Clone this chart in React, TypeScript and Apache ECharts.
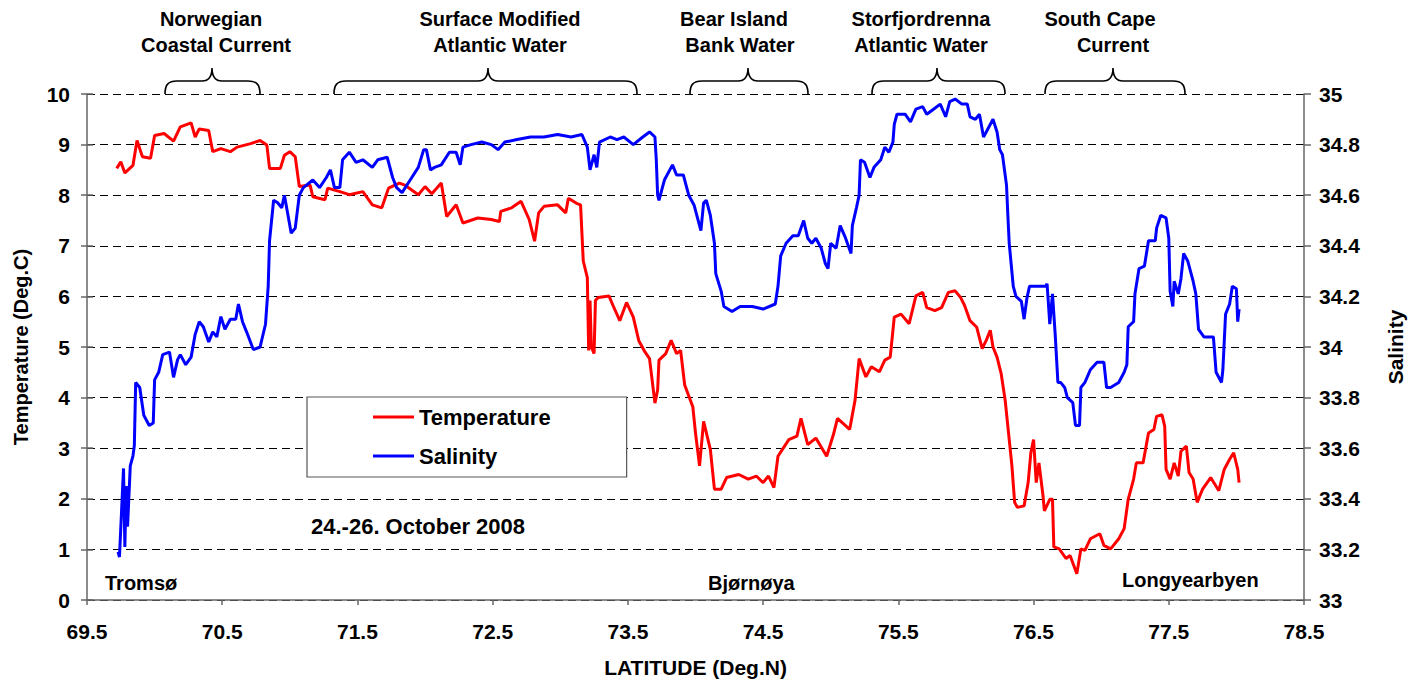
import React, { useEffect, useRef } from "react";
import * as echarts from "echarts";

// [latitude (deg N), temperature (deg C)]
const temperature: [number, number][] = [
  [69.72, 8.53], [69.75, 8.66], [69.78, 8.44], [69.84, 8.59], [69.87, 9.08], [69.91, 8.76], [69.97, 8.73],
  [70.0, 9.18], [70.07, 9.22], [70.14, 9.07], [70.19, 9.35], [70.27, 9.43], [70.3, 9.15], [70.33, 9.31],
  [70.4, 9.28], [70.43, 8.86], [70.49, 8.92], [70.56, 8.86], [70.61, 8.95], [70.71, 9.02], [70.78, 9.08],
  [70.83, 8.99], [70.85, 8.53], [70.93, 8.53], [70.96, 8.79], [71.0, 8.86], [71.04, 8.76], [71.07, 8.17],
  [71.15, 8.2], [71.17, 7.97], [71.26, 7.91], [71.28, 8.14], [71.37, 8.07], [71.44, 8.01], [71.54, 8.07],
  [71.61, 7.81], [71.68, 7.75], [71.73, 8.14], [71.81, 8.24], [71.85, 8.2], [71.95, 8.01], [72.0, 8.17],
  [72.05, 8.03], [72.12, 8.24], [72.16, 7.58], [72.23, 7.81], [72.28, 7.45], [72.39, 7.55], [72.49, 7.52],
  [72.55, 7.48], [72.56, 7.68], [72.64, 7.75], [72.71, 7.88], [72.77, 7.52], [72.81, 7.09], [72.84, 7.65],
  [72.88, 7.78], [72.98, 7.81], [73.04, 7.65], [73.06, 7.94], [73.12, 7.84], [73.15, 7.81], [73.17, 6.7],
  [73.2, 6.37], [73.21, 4.93], [73.22, 5.92], [73.23, 5.0], [73.25, 4.87], [73.26, 5.92], [73.28, 5.98],
  [73.36, 6.01], [73.39, 5.82], [73.44, 5.52], [73.49, 5.88], [73.54, 5.59], [73.58, 5.13], [73.62, 4.93],
  [73.66, 4.77], [73.7, 3.89], [73.72, 4.15], [73.73, 4.74], [73.78, 4.87], [73.82, 5.13], [73.86, 4.87],
  [73.89, 4.93], [73.92, 4.25], [73.98, 3.82], [74.0, 3.3], [74.03, 2.65], [74.06, 3.53], [74.11, 2.97],
  [74.14, 2.19], [74.19, 2.19], [74.23, 2.42], [74.32, 2.48], [74.39, 2.39], [74.45, 2.45], [74.5, 2.32],
  [74.54, 2.45], [74.58, 2.22], [74.61, 2.84], [74.69, 3.17], [74.75, 3.24], [74.78, 3.59], [74.83, 3.07],
  [74.89, 3.2], [74.97, 2.84], [75.02, 3.27], [75.05, 3.59], [75.14, 3.37], [75.18, 3.95], [75.21, 4.77],
  [75.26, 4.41], [75.3, 4.61], [75.36, 4.51], [75.4, 4.74], [75.44, 4.8], [75.47, 5.59], [75.52, 5.65],
  [75.58, 5.46], [75.63, 6.01], [75.68, 6.08], [75.71, 5.78], [75.77, 5.72], [75.82, 5.78], [75.87, 6.08],
  [75.92, 6.11], [75.96, 5.98], [75.99, 5.82], [76.03, 5.52], [76.08, 5.39], [76.12, 4.97], [76.15, 5.13],
  [76.18, 5.33], [76.2, 5.0], [76.23, 4.8], [76.26, 4.48], [76.29, 3.95], [76.31, 3.43], [76.34, 2.65],
  [76.36, 1.93], [76.38, 1.83], [76.43, 1.86], [76.46, 2.32], [76.48, 2.91], [76.5, 3.17], [76.52, 2.32],
  [76.54, 2.71], [76.57, 2.06], [76.58, 1.76], [76.62, 1.99], [76.64, 1.99], [76.65, 1.05], [76.69, 1.01],
  [76.74, 0.82], [76.77, 0.88], [76.82, 0.52], [76.85, 1.01], [76.88, 0.98], [76.92, 1.21], [76.99, 1.31],
  [77.02, 1.08], [77.07, 1.01], [77.13, 1.21], [77.17, 1.41], [77.2, 1.99], [77.24, 2.39], [77.26, 2.71],
  [77.31, 2.71], [77.35, 3.3], [77.39, 3.37], [77.41, 3.63], [77.45, 3.66], [77.47, 3.43], [77.48, 2.58],
  [77.51, 2.39], [77.54, 2.71], [77.57, 2.45], [77.59, 2.94], [77.63, 3.04], [77.65, 2.52], [77.68, 2.39],
  [77.71, 1.93], [77.75, 2.19], [77.81, 2.42], [77.87, 2.16], [77.91, 2.58], [77.95, 2.78], [77.98, 2.91],
  [78.01, 2.58], [78.02, 2.32],
];

// [latitude (deg N), salinity]
const salinity: [number, number][] = [
  [69.73, 33.19], [69.74, 33.17], [69.77, 33.52], [69.78, 33.21], [69.79, 33.45], [69.8, 33.29], [69.82, 33.53],
  [69.84, 33.57], [69.85, 33.61], [69.86, 33.86], [69.89, 33.84], [69.92, 33.73], [69.96, 33.69], [69.99, 33.7],
  [70.0, 33.87], [70.03, 33.9], [70.06, 33.97], [70.11, 33.98], [70.14, 33.88], [70.17, 33.95], [70.19, 33.97],
  [70.23, 33.93], [70.27, 33.96], [70.3, 34.05], [70.33, 34.1], [70.36, 34.08], [70.4, 34.02], [70.43, 34.06],
  [70.46, 34.04], [70.49, 34.12], [70.52, 34.07], [70.56, 34.11], [70.6, 34.11], [70.62, 34.17], [70.65, 34.1],
  [70.68, 34.06], [70.73, 33.99], [70.78, 34.0], [70.82, 34.09], [70.84, 34.24], [70.85, 34.42], [70.88, 34.58],
  [70.91, 34.57], [70.94, 34.55], [70.96, 34.6], [70.99, 34.51], [71.01, 34.45], [71.04, 34.47], [71.07, 34.6],
  [71.1, 34.63], [71.17, 34.66], [71.22, 34.63], [71.27, 34.67], [71.3, 34.7], [71.33, 34.63], [71.37, 34.63],
  [71.39, 34.74], [71.44, 34.77], [71.49, 34.73], [71.54, 34.74], [71.61, 34.71], [71.65, 34.74], [71.72, 34.75],
  [71.76, 34.67], [71.79, 34.63], [71.83, 34.61], [71.89, 34.66], [71.95, 34.71], [71.99, 34.78], [72.01, 34.78],
  [72.04, 34.7], [72.07, 34.71], [72.12, 34.72], [72.18, 34.77], [72.23, 34.77], [72.26, 34.72], [72.28, 34.79],
  [72.34, 34.8], [72.42, 34.81], [72.49, 34.8], [72.54, 34.78], [72.59, 34.81], [72.68, 34.82], [72.78, 34.83],
  [72.88, 34.83], [72.98, 34.84], [73.08, 34.83], [73.16, 34.84], [73.2, 34.79], [73.22, 34.7], [73.25, 34.76],
  [73.27, 34.71], [73.29, 34.81], [73.37, 34.83], [73.42, 34.82], [73.47, 34.83], [73.54, 34.8], [73.61, 34.83],
  [73.66, 34.85], [73.7, 34.83], [73.71, 34.74], [73.72, 34.6], [73.73, 34.58], [73.77, 34.66], [73.83, 34.72],
  [73.86, 34.68], [73.91, 34.68], [73.93, 34.64], [73.95, 34.6], [73.99, 34.56], [74.04, 34.46], [74.06, 34.57],
  [74.08, 34.58], [74.11, 34.52], [74.14, 34.41], [74.15, 34.29], [74.19, 34.22], [74.21, 34.16], [74.27, 34.14],
  [74.33, 34.16], [74.42, 34.16], [74.5, 34.15], [74.59, 34.17], [74.61, 34.24], [74.63, 34.36], [74.67, 34.41],
  [74.72, 34.44], [74.76, 34.44], [74.8, 34.5], [74.83, 34.43], [74.86, 34.41], [74.89, 34.43], [74.93, 34.39],
  [74.96, 34.33], [74.98, 34.31], [75.0, 34.41], [75.04, 34.39], [75.07, 34.48], [75.11, 34.43], [75.15, 34.37],
  [75.16, 34.48], [75.19, 34.55], [75.21, 34.6], [75.22, 34.74], [75.25, 34.73], [75.29, 34.67], [75.32, 34.71],
  [75.37, 34.74], [75.4, 34.79], [75.43, 34.77], [75.46, 34.81], [75.47, 34.88], [75.49, 34.92], [75.55, 34.92],
  [75.59, 34.89], [75.63, 34.94], [75.68, 34.95], [75.71, 34.92], [75.76, 34.94], [75.81, 34.96], [75.85, 34.91],
  [75.88, 34.97], [75.92, 34.98], [75.97, 34.96], [76.01, 34.96], [76.03, 34.91], [76.07, 34.9], [76.1, 34.92],
  [76.13, 34.83], [76.16, 34.86], [76.2, 34.9], [76.23, 34.85], [76.25, 34.78], [76.27, 34.76], [76.3, 34.64],
  [76.31, 34.52], [76.32, 34.41], [76.35, 34.24], [76.37, 34.2], [76.41, 34.18], [76.43, 34.11], [76.45, 34.19],
  [76.47, 34.24], [76.53, 34.24], [76.59, 34.24], [76.6, 34.25], [76.62, 34.09], [76.64, 34.21], [76.66, 34.05],
  [76.68, 33.86], [76.7, 33.86], [76.73, 33.84], [76.75, 33.8], [76.79, 33.78], [76.81, 33.69], [76.84, 33.69],
  [76.85, 33.84], [76.88, 33.86], [76.92, 33.91], [76.97, 33.94], [77.02, 33.94], [77.04, 33.84], [77.07, 33.84],
  [77.13, 33.86], [77.17, 33.9], [77.19, 33.93], [77.2, 34.08], [77.24, 34.1], [77.25, 34.21], [77.28, 34.31],
  [77.32, 34.32], [77.35, 34.42], [77.4, 34.42], [77.41, 34.47], [77.44, 34.52], [77.48, 34.51], [77.5, 34.43],
  [77.51, 34.22], [77.53, 34.16], [77.54, 34.26], [77.57, 34.21], [77.59, 34.27], [77.61, 34.37], [77.64, 34.34],
  [77.68, 34.26], [77.7, 34.21], [77.72, 34.07], [77.76, 34.04], [77.8, 34.04], [77.83, 34.04], [77.85, 33.9],
  [77.89, 33.86], [77.9, 33.91], [77.92, 34.13], [77.95, 34.17], [77.97, 34.24], [78.0, 34.23], [78.01, 34.1],
  [78.02, 34.15],
];

const latRange = { min: 69.5, max: 78.5, interval: 1 };
const tempRange = { min: 0, max: 10, interval: 1 };
const salRange = { min: 33, max: 35, interval: 0.2 };

const seriesNames = ["Temperature", "Salinity"];
const seriesColors = ["#ff0000", "#0000ff"];
const waterMassLabels = [
  ["Norwegian", "Coastal Current"],
  ["Surface Modified", "Atlantic Water"],
  ["Bear Island", "Bank Water"],
  ["Storfjordrenna", "Atlantic Water"],
  ["South Cape", "Current"],
];
const placeNames = ["Tromsø", "Bjørnøya", "Longyearbyen"];
const dateText = "24.-26. October 2008";

// layout (pixels) for the annotations
const braceSpans = [
  { x1: 165, x2: 260, cx: 212, t1: 211, t2: 216 },
  { x1: 334, x2: 637, cx: 488, t1: 500, t2: 500 },
  { x1: 690, x2: 808, cx: 748, t1: 734, t2: 740 },
  { x1: 872, x2: 1005, cx: 937, t1: 921, t2: 921 },
  { x1: 1045, x2: 1185, cx: 1113, t1: 1100, t2: 1113 },
];
const placePos = [
  { x: 105, y: 583 },
  { x: 708, y: 583 },
  { x: 1122, y: 580 },
];

const FONT = "'Liberation Sans', Arial, Helvetica, sans-serif";

function bracePath(x1: number, x2: number, cx: number): string {
  const yb = 94, yl = 81, yt = 68;
  return (
    `M${x1},${yb} C${x1},${yl + 4} ${x1 + 3},${yl} ${x1 + 12},${yl} ` +
    `L${cx - 10},${yl} C${cx - 3},${yl} ${cx},${yl - 4} ${cx},${yt} ` +
    `C${cx},${yl - 4} ${cx + 3},${yl} ${cx + 10},${yl} ` +
    `L${x2 - 12},${yl} C${x2 - 3},${yl} ${x2},${yl + 4} ${x2},${yb}`
  );
}

export default function App() {
  const ref = useRef<HTMLDivElement>(null);

  useEffect(() => {
    if (!ref.current) return;
    braceSpans.forEach((b, i) => {
      echarts.graphic.registerShape(
        "brace" + i,
        echarts.graphic.extendPath(bracePath(b.x1, b.x2, b.cx), {}) as any
      );
    });
    const chart = echarts.init(ref.current, undefined, { renderer: "svg" });

    const textStyle = (text: string, size: number, align: string) => ({
      text,
      fontFamily: FONT,
      fontSize: size,
      fontWeight: "bold",
      fill: "#000",
      align,
      verticalAlign: "middle",
    });

    const graphics: any[] = [];
    braceSpans.forEach((b, i) => {
      graphics.push({
        type: "brace" + i,
        x: 0,
        y: 0,
        silent: true,
        style: { stroke: "#000", fill: "none", lineWidth: 1.6 },
      });
      graphics.push({ type: "text", x: b.t1, y: 19, style: textStyle(waterMassLabels[i][0], 20, "center") });
      graphics.push({ type: "text", x: b.t2, y: 45, style: textStyle(waterMassLabels[i][1], 20, "center") });
    });
    placeNames.forEach((n, i) => {
      graphics.push({ type: "text", x: placePos[i].x, y: placePos[i].y, style: textStyle(n, 20, "left") });
    });
    graphics.push({ type: "text", x: 311, y: 526, style: textStyle(dateText, 22, "left") });

    const axisColor = "#666";
    const labelStyle = { fontFamily: FONT, fontSize: 21, fontWeight: "bold" as const, color: "#000" };
    const nameStyle = { fontFamily: FONT, fontSize: 20, fontWeight: "bold" as const, color: "#000" };

    chart.setOption({
      animation: false,
      backgroundColor: "#fff",
      textStyle: { fontFamily: FONT },
      grid: { left: 87, right: 96, top: 94, bottom: 77, containLabel: false },
      legend: {
        show: true,
        data: seriesNames.map((n, i) => ({ name: n, icon: "rect", itemStyle: { color: seriesColors[i] } })),
        orient: "vertical",
        left: 307,
        top: 397,
        padding: [9, 76, 10, 66],
        itemGap: 17,
        itemWidth: 41,
        itemHeight: 3,
        backgroundColor: "#fff",
        borderColor: "#555",
        borderWidth: 1.2,
        selectedMode: false,
        textStyle: { fontFamily: FONT, fontSize: 22, fontWeight: "bold", color: "#000", lineHeight: 22 },
      },
      xAxis: {
        type: "value",
        min: latRange.min,
        max: latRange.max,
        interval: latRange.interval,
        name: "LATITUDE (Deg.N)",
        nameLocation: "middle",
        nameGap: 57,
        nameTextStyle: { ...nameStyle, fontSize: 21 },
        axisLine: { show: true, onZero: false, lineStyle: { color: axisColor, width: 1.5 } },
        axisTick: { show: true, inside: false, length: 5, lineStyle: { color: axisColor, width: 1.5 } },
        axisLabel: { ...labelStyle, margin: 21 },
        splitLine: { show: false },
      },
      yAxis: [
        {
          type: "value",
          position: "left",
          min: tempRange.min,
          max: tempRange.max,
          interval: tempRange.interval,
          name: "Temperature (Deg.C)",
          nameLocation: "middle",
          nameRotate: 90,
          nameGap: 56,
          nameTextStyle: nameStyle,
          axisLine: { show: true, onZero: false, lineStyle: { color: axisColor, width: 1.5 } },
          axisTick: { show: true, inside: false, length: 6, lineStyle: { color: axisColor, width: 1.5 } },
          axisLabel: { ...labelStyle, margin: 17 },
          splitLine: { show: true, lineStyle: { color: "#000", width: 1, type: [8, 5] } },
        },
        {
          type: "value",
          position: "right",
          min: salRange.min,
          max: salRange.max,
          interval: salRange.interval,
          name: "Salinity",
          nameLocation: "middle",
          nameRotate: 90,
          nameGap: 81,
          nameTextStyle: { ...nameStyle, fontSize: 21 },
          axisLine: { show: true, onZero: false, lineStyle: { color: axisColor, width: 1.5 } },
          axisTick: { show: true, inside: false, length: 7, lineStyle: { color: axisColor, width: 1.5 } },
          axisLabel: { ...labelStyle, margin: 15 },
          splitLine: { show: false },
        },
        {
          type: "value",
          position: "left",
          min: tempRange.min,
          max: tempRange.max,
          interval: tempRange.interval,
          axisLine: { show: false },
          axisTick: { show: true, inside: true, length: 6, lineStyle: { color: axisColor, width: 1.5 } },
          axisLabel: { show: false },
          splitLine: { show: false },
        },
      ],
      series: [
        {
          name: seriesNames[0],
          type: "line",
          yAxisIndex: 0,
          data: temperature,
          symbol: "none",
          showSymbol: false,
          lineStyle: { color: seriesColors[0], width: 3 },
          itemStyle: { color: seriesColors[0] },
          z: 2,
        },
        {
          name: seriesNames[1],
          type: "line",
          yAxisIndex: 1,
          data: salinity,
          symbol: "none",
          showSymbol: false,
          lineStyle: { color: seriesColors[1], width: 3 },
          itemStyle: { color: seriesColors[1] },
          z: 3,
        },
      ],
      graphic: { elements: graphics },
    });

    return () => {
      chart.dispose();
    };
  }, []);

  return (
    <div
      ref={ref}
      style={{ position: "fixed", left: 0, top: 0, width: 1414, height: 683, background: "#fff" }}
    />
  );
}
